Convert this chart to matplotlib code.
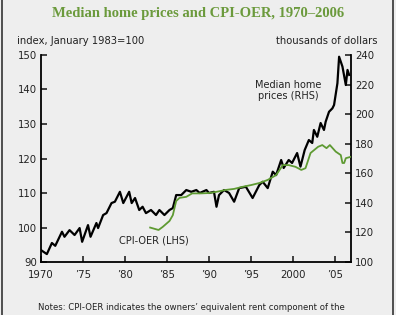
#!/usr/bin/env python3
"""Median home prices and CPI-OER, 1970-2006 (dual axis line chart)."""

import matplotlib
matplotlib.use("Agg")
import matplotlib.pyplot as plt
from matplotlib.lines import Line2D

# ---------------------------------------------------------------------------
# Data
# ---------------------------------------------------------------------------
price_years = [
    1970.0, 1970.7, 1971.3, 1971.7, 1972.5, 1972.8, 1973.4, 1974.0, 1974.6,
    1974.9, 1975.6, 1975.9, 1976.6, 1976.8, 1977.4, 1977.8, 1978.4, 1978.8,
    1979.4, 1979.8, 1980.5, 1980.8, 1981.2, 1981.7, 1982.1, 1982.5, 1983.1,
    1983.7, 1984.1, 1984.7, 1985.3, 1985.7, 1986.1, 1986.7, 1987.3, 1987.9,
    1988.5, 1988.9, 1989.7, 1990.0, 1990.6, 1990.9, 1991.2, 1991.8, 1992.4,
    1993.0, 1993.6, 1994.4, 1995.2, 1996.0, 1996.4, 1997.0, 1997.6, 1998.0,
    1998.6, 1998.9, 1999.5, 1999.9, 2000.5, 2000.9, 2001.4, 2001.9, 2002.3,
    2002.5, 2002.9, 2003.3, 2003.7, 2003.9, 2004.3, 2004.7, 2004.9, 2005.3,
    2005.5, 2005.9, 2006.3, 2006.5, 2006.7,
]
# median home prices, thousands of dollars (RHS)
home_price = [
    108.1, 105.4, 112.9, 111.0, 120.5, 117.1, 121.6, 118.3, 123.0,
    113.7, 125.0, 117.1, 126.4, 123.0, 131.8, 133.1, 139.9, 140.8,
    147.5, 139.9, 147.5, 139.9, 143.3, 135.2, 137.4, 133.1, 135.2,
    131.8, 135.2, 131.8, 135.2, 136.5, 145.3, 145.3, 148.7, 147.5,
    148.7, 146.7, 148.7, 146.7, 147.5, 137.4, 145.3, 148.7, 146.7,
    140.8, 150.0, 150.9, 143.3, 152.1, 154.3, 150.0, 161.1, 158.8,
    169.0, 163.6, 169.0, 167.0, 173.7, 164.5, 175.7, 182.5, 180.5,
    189.3, 184.7, 194.0, 189.3, 194.9, 201.6, 203.9, 206.2, 220.9,
    238.8, 232.1, 219.7, 229.9, 226.5,
]

oer_years = [
    1983.0, 1984.0, 1984.5, 1985.3, 1985.7, 1986.1, 1986.5, 1987.3, 1988.0,
    1989.0, 1990.0, 1991.0, 1992.0, 1993.0, 1994.0, 1995.0, 1996.0, 1997.0,
    1998.0, 1998.8, 1999.5, 2000.3, 2001.0, 2001.5, 2002.1, 2002.3, 2003.0,
    2003.5, 2004.0, 2004.4, 2005.1, 2005.7, 2005.9, 2006.1, 2006.3, 2006.9,
]
# CPI owners' equivalent rent, index Jan 1983 = 100 (LHS)
cpi_oer = [
    100.0, 99.3, 100.2, 101.9, 103.6, 107.7, 108.6, 108.9, 109.9,
    109.9, 110.0, 110.4, 110.9, 111.2, 111.8, 112.3, 112.9, 113.8,
    115.2, 118.1, 118.1, 117.6, 116.7, 117.2, 121.6, 122.0, 123.4,
    123.9, 123.0, 123.9, 122.0, 121.0, 118.7, 118.7, 120.1, 120.5,
]

x_ticks = [1970, 1975, 1980, 1985, 1990, 1995, 2000, 2005]
x_tick_labels = ["1970", "\u201975", "\u201980", "\u201985", "\u201990",
                 "\u201995", "2000", "\u201905"]
left_ticks = [90, 100, 110, 120, 130, 140, 150]
right_ticks = [100, 120, 140, 160, 180, 200, 220, 240]

# ---------------------------------------------------------------------------
BG = "#eeeeee"
GREEN = "#5e9a32"
TITLE_GREEN = "#6b9a3c"
TEXT = "#222222"

plt.rcParams["font.family"] = "DejaVu Sans"

fig = plt.figure(figsize=(3.96, 3.15), dpi=100, facecolor=BG)
ax = fig.add_axes([0.1035, 0.168, 0.7825, 0.6575])
ax2 = ax.twinx()

# black series on the right axis, drawn below the green one
ax2.plot(price_years, home_price, color="black", linewidth=1.6)
ax.plot(oer_years, cpi_oer, color=GREEN, linewidth=1.3)
ax.set_zorder(ax2.get_zorder() + 1)
ax.patch.set_visible(False)
ax2.patch.set_visible(False)

ax.set_xlim(1970, 2006.9)
ax.set_ylim(90, 150)
ax2.set_ylim(100, 240)

ax.set_xticks(x_ticks)
ax.set_xticklabels(x_tick_labels)
ax.set_yticks(left_ticks)
ax2.set_yticks(right_ticks)

for a in (ax, ax2):
    a.spines["top"].set_visible(False)
    for s in a.spines.values():
        s.set_linewidth(1.3)
    a.tick_params(direction="in", length=4, width=1.2, labelsize=7.3,
                  colors=TEXT, pad=3)
ax.tick_params(axis="x", pad=6)
ax.spines["right"].set_visible(False)
ax2.spines["left"].set_visible(False)
ax2.spines["bottom"].set_visible(False)

# annotations
ax2.text(1999.4, 216, "Median home\nprices (RHS)", ha="center", va="center",
         fontsize=7, color=TEXT, linespacing=1.2)
ax.text(1983.4, 96.2, "CPI-OER (LHS)", ha="center", va="center",
        fontsize=7, color=TEXT)

# titles and axis captions
fig.text(0.5, 0.958, "Median home prices and CPI-OER, 1970\u20132006",
         ha="center", va="center", fontsize=10.5, fontweight="bold",
         family="Liberation Serif", color=TITLE_GREEN)
fig.text(0.043, 0.87, "index, January 1983=100", ha="left", va="center",
         fontsize=7.2, color=TEXT)
fig.text(0.953, 0.87, "thousands of dollars", ha="right", va="center",
         fontsize=7.2, color=TEXT)
fig.text(0.484, 0.025,
         "Notes: CPI-OER indicates the owners\u2019 equivalent rent component of the",
         ha="center", va="center", fontsize=6.1, color=TEXT)

# frame lines at the left and right edges
for xe in (0.004, 0.993):
    fig.add_artist(Line2D([xe, xe], [0, 1], transform=fig.transFigure,
                          color="#333333", linewidth=1.2))

fig.savefig("out.png", dpi=100, facecolor=BG)
plt.close(fig)
